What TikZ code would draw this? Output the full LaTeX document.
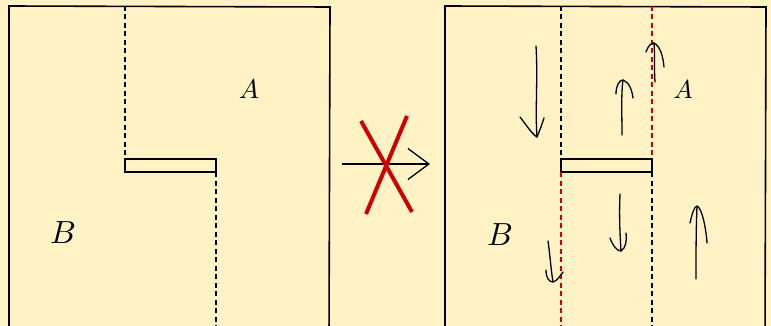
\documentclass[tikz,border=0pt]{standalone}
\usepackage{amsmath}
\usepackage{tikz}
\usetikzlibrary{arrows.meta}
\definecolor{paper}{RGB}{255,243,198}
\definecolor{cut}{RGB}{208,0,0}

\begin{document}
\begin{tikzpicture}[x=1pt,y=-1pt,
  wall/.style={line width=1.6pt},
  seam/.style={dash pattern=on 5pt off 3.5pt, line width=1.1pt},
  hand/.style={line width=1.3pt, line cap=round, line join=round}]
  \fill[paper] (0,0) rectangle (771,326);
  \clip (0,0) rectangle (771,326);
  % before: one barrier, seams on both sides
  \draw[wall] (9,340) -- (9,6) -- (330,7) -- (329,340);
  \draw[wall] (125,159) rectangle (216,172);
  \draw[seam] (125,6) -- (125,159);
  \draw[seam] (216,172) -- (216,340);
  \node[scale=2.7] (lA) at (249,89) {$A$};
  \node[scale=3.2] (lB) at (63,233) {$B$};
  % crossed out arrow
  \coordinate (go) at (342,164);
  \coordinate (goEnd) at (430,164);
  \draw[line width=1.3pt, -{Straight Barb[length=21pt,width=31pt]}] (go) -- (goEnd);
  \draw[cut, line width=4pt] (361,121) -- (412,212);
  \draw[cut, line width=4pt] (407,116) -- (366,214);
  % after: seams swapped
  \draw[wall] (445,340) -- (445,6) -- (766,7) -- (765,340);
  \draw[wall] (561,159) rectangle (652,172);
  \draw[seam] (561,6) -- (561,159);
  \draw[seam, cut] (652,6) -- (652,159);
  \draw[seam, cut] (561,172) -- (561,340);
  \draw[seam] (652,172) -- (652,340);
  \node[scale=2.6] (rA) at (683,90) {$A$};
  \node[scale=3.2] (rB) at (500,235) {$B$};
  % hand drawn flow arrows
  \draw[hand] (536,46) .. controls (538,80) and (535,110) .. (537,137);
  \draw[hand] (520,117) .. controls (527,126) and (532,134) .. (537,137) .. controls (540,130) and (542,124) .. (544,118);
  \draw[hand] (622,135) .. controls (622,115) and (621,95) .. (623,80);
  \draw[hand] (616,94) .. controls (616,86) and (619,80) .. (623,80) .. controls (629,82) and (632,90) .. (633,98);
  \draw[hand] (655,82) .. controls (654,70) and (655,55) .. (654,43);
  \draw[hand] (646,52) .. controls (648,46) and (651,43) .. (654,43) .. controls (660,46) and (663,56) .. (664,67);
  \draw[hand] (620,194) .. controls (619,215) and (620,235) .. (621,251);
  \draw[hand] (610,238) .. controls (613,246) and (617,251) .. (621,251) .. controls (626,248) and (627,240) .. (626,233);
  \draw[hand] (548,241) .. controls (550,255) and (551,270) .. (553,282);
  \draw[hand] (546,270) .. controls (546,278) and (549,282) .. (553,282) .. controls (557,281) and (560,276) .. (563,272);
  \draw[hand] (696,279) .. controls (696,255) and (696,230) .. (697,206);
  \draw[hand] (690,223) .. controls (692,214) and (694,207) .. (697,206) .. controls (702,208) and (706,228) .. (707,243);
\end{tikzpicture}
\end{document}
